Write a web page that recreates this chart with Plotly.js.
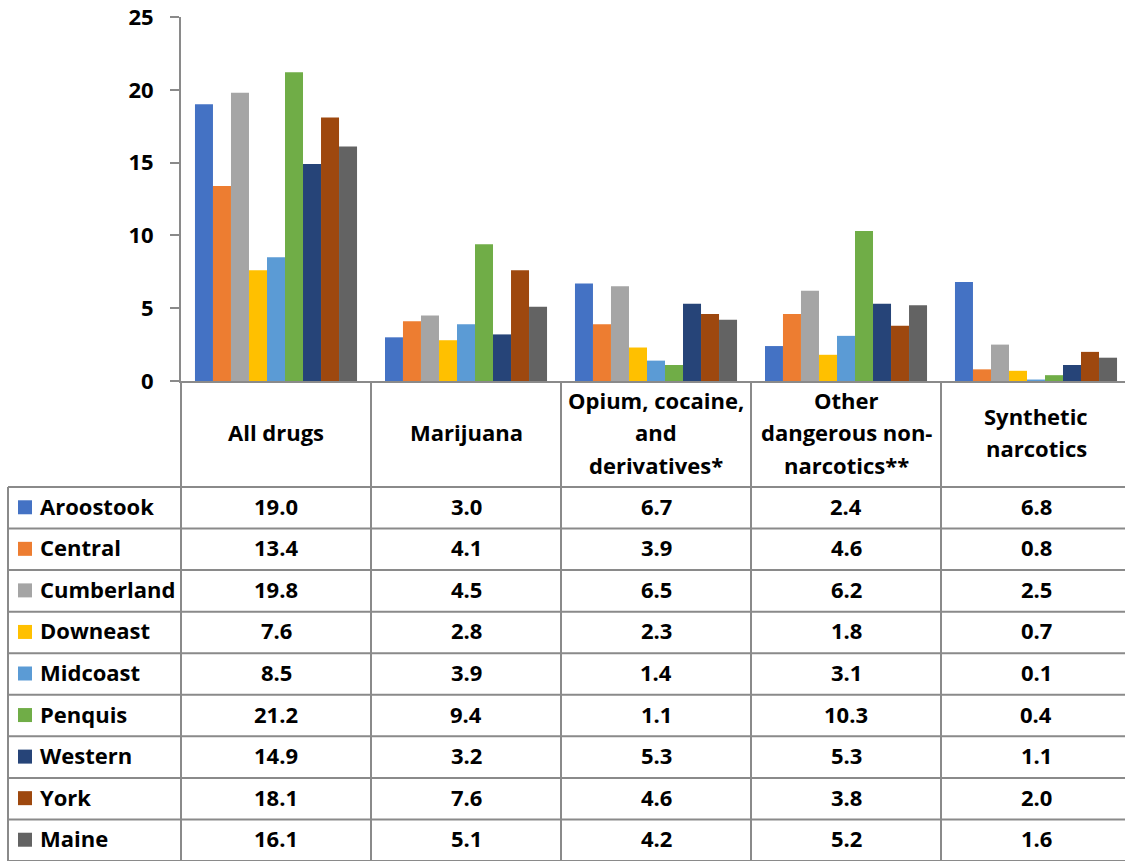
<!DOCTYPE html>
<html>
<head>
<meta charset="utf-8">
<script src="https://cdn.plot.ly/plotly-3.0.1.min.js"></script>
<style>
html,body{margin:0;padding:0;background:#fff;overflow:hidden;}
#chart{width:1131px;height:861px;}
</style>
</head>
<body>
<div id="chart"></div>
<script>
// ---- data ----
const categories = ['All drugs', 'Marijuana', 'Opium, cocaine, and derivatives*', 'Other dangerous non-narcotics**', 'Synthetic narcotics'];
const headerLines = [['All drugs'], ['Marijuana'], ['Opium, cocaine,', 'and', 'derivatives*'], ['Other', 'dangerous non-', 'narcotics**'], ['Synthetic', 'narcotics']];
const regions = ['Aroostook', 'Central', 'Cumberland', 'Downeast', 'Midcoast', 'Penquis', 'Western', 'York', 'Maine'];
const aroostook  = [19.0, 3.0, 6.7, 2.4, 6.8];
const central    = [13.4, 4.1, 3.9, 4.6, 0.8];
const cumberland = [19.8, 4.5, 6.5, 6.2, 2.5];
const downeast   = [7.6, 2.8, 2.3, 1.8, 0.7];
const midcoast   = [8.5, 3.9, 1.4, 3.1, 0.1];
const penquis    = [21.2, 9.4, 1.1, 10.3, 0.4];
const western    = [14.9, 3.2, 5.3, 5.3, 1.1];
const york       = [18.1, 7.6, 4.6, 3.8, 2.0];
const maine      = [16.1, 5.1, 4.2, 5.2, 1.6];
const seriesValues = [aroostook, central, cumberland, downeast, midcoast, penquis, western, york, maine];
const yTicks = [0, 5, 10, 15, 20, 25];

// ---- styling ----
const colors = ['#4472C4', '#ED7D31', '#A5A5A5', '#FFC000', '#5B9BD5', '#70AD47', '#264478', '#9E480E', '#636363'];
const FONT = 'Open Sans, Noto Sans, sans-serif';
const TXT = '#000000';
const GRID = '#8a8a8a';

// geometry (pixels)
const FIG_W = 1131, FIG_H = 861;
const L = 181, T = 17, PW = 950, PH = 364;
const AXIS_Y = T + PH;           // 381
const HEADER_BOTTOM = 487;
const ROW_H = (FIG_H - HEADER_BOTTOM) / regions.length;
const TABLE_LEFT = 8;
const TEXT_SHIFT = -2;
const px = x => (x - L) / PW;
const py = y => (AXIS_Y - y) / PH;

const traces = regions.map((name, i) => ({
  type: 'bar',
  name: name,
  x: categories,
  y: seriesValues[i],
  marker: {color: colors[i], line: {width: 0}},
  hoverinfo: 'x+y+name'
}));

const shapes = [];
const annotations = [];
const line = {color: GRID, width: 2};

// vertical table lines at category boundaries
for (let k = 0; k <= categories.length; k++) {
  const x = L + k * (PW / categories.length);
  shapes.push({type: 'line', xref: 'paper', yref: 'paper', x0: px(x), x1: px(x), y0: py(AXIS_Y), y1: py(FIG_H + 2), line: line});
}
// left border of the legend column
shapes.push({type: 'line', xref: 'paper', yref: 'paper', x0: px(TABLE_LEFT), x1: px(TABLE_LEFT), y0: py(HEADER_BOTTOM), y1: py(FIG_H + 2), line: line});
// horizontal row lines
for (let r = 0; r <= regions.length; r++) {
  const y = HEADER_BOTTOM + r * ROW_H;
  shapes.push({type: 'line', xref: 'paper', yref: 'paper', x0: px(TABLE_LEFT), x1: px(FIG_W + 5), y0: py(y), y1: py(y), line: line});
}

// header text
const HEADER_MID = (AXIS_Y + HEADER_BOTTOM) / 2 + TEXT_SHIFT;
const HEADER_LS = 32.5;
categories.forEach((c, ci) => {
  const lines = headerLines[ci];
  lines.forEach((t, li) => {
    const y = HEADER_MID + (li - (lines.length - 1) / 2) * HEADER_LS;
    annotations.push({xref: 'x', yref: 'paper', x: c, y: py(y), text: t, showarrow: false,
      xanchor: 'center', yanchor: 'middle', font: {family: FONT, size: 22, color: TXT, weight: 700}});
  });
});

// rows: legend key, label, values
regions.forEach((name, ri) => {
  const yc = HEADER_BOTTOM + (ri + 0.5) * ROW_H;
  const yt = yc + TEXT_SHIFT;
  shapes.push({type: 'rect', xref: 'paper', yref: 'paper', x0: px(18), x1: px(32), y0: py(yc - 7.5), y1: py(yc + 6.5),
    fillcolor: colors[ri], line: {width: 0}});
  annotations.push({xref: 'paper', yref: 'paper', x: px(38), y: py(yt), text: name, showarrow: false,
    xanchor: 'left', yanchor: 'middle', font: {family: FONT, size: 22, color: TXT, weight: 700}});
  categories.forEach((c, ci) => {
    annotations.push({xref: 'x', yref: 'paper', x: c, y: py(yt), text: seriesValues[ri][ci].toFixed(1), showarrow: false,
      xanchor: 'center', yanchor: 'middle', font: {family: FONT, size: 22, color: TXT, weight: 700}});
  });
});

const layout = {
  width: FIG_W, height: FIG_H,
  margin: {l: L, r: FIG_W - L - PW, t: T, b: FIG_H - AXIS_Y, pad: 0},
  paper_bgcolor: '#ffffff', plot_bgcolor: '#ffffff',
  font: {family: FONT, size: 22, color: TXT, weight: 700},
  showlegend: false,
  barmode: 'group', bargap: 0.147, bargroupgap: 0,
  xaxis: {type: 'category', categoryarray: categories, range: [-0.5, categories.length - 0.5],
    showticklabels: false, ticks: '', showline: true, linecolor: GRID, linewidth: 2,
    showgrid: false, zeroline: false, fixedrange: true},
  yaxis: {range: [0, 25], tickvals: yTicks, ticktext: yTicks.map(String), ticks: 'outside', ticklen: 9,
    tickwidth: 2, tickcolor: GRID, showline: true, linecolor: GRID, linewidth: 2, showgrid: false,
    zeroline: false, ticklabelstandoff: 12, tickfont: {family: FONT, size: 22, color: TXT, weight: 700}, fixedrange: true},
  shapes: shapes,
  annotations: annotations
};

Plotly.newPlot('chart', traces, layout, {displayModeBar: false, staticPlot: true});
</script>
</body>
</html>
